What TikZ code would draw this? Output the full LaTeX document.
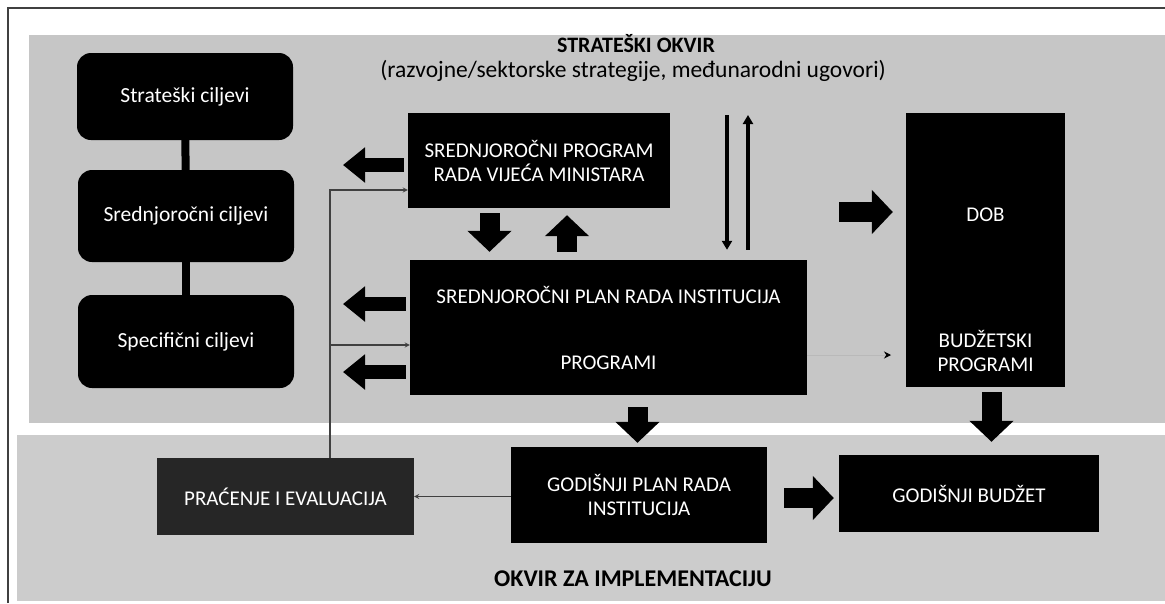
\documentclass[tikz,border=0pt]{standalone}
\usepackage{fontspec}
\setmainfont{Carlito}
\usetikzlibrary{arrows.meta,positioning}

\begin{document}
\begin{tikzpicture}[x=1pt,y=-1pt,>=stealth,
goal/.style = {fill=black, text=white, rounded corners=14pt, minimum width=216pt, font=\fontsize{21.5}{25}\selectfont},
box/.style = {fill=black, text=white, align=center, inner sep=0pt, font=\fontsize{21}{24}\selectfont},
head/.style = {inner sep=0pt, font=\bfseries\fontsize{22}{26}\selectfont},
fat/.style = {line width=20pt, -{Triangle[length=21pt,width=43pt]}},
side/.style = {line width=14pt, -{Triangle[length=22pt,width=34pt]}},
pole/.style = {line width=4pt, -{Triangle[length=9pt,width=10pt]}},
fine/.style = {draw=black!75, line width=1.2pt},]
\useasboundingbox (0,0) rectangle (1165,603);
\fill[white] (0,0) rectangle (1165,603);
% panels and frame
\fill[gray!45] (29,35) rectangle (1165,423);
\fill[gray!40] (17,435) rectangle (1165,601);
\draw[line width=1.5pt, black!75] (8,603) -- (8,8) -- (1165,8);
\node (title) at (636,44)[head] {STRATEŠKI OKVIR};
\node (subtitle) at (633,71)[inner sep=0pt,font=\fontsize{23.5}{27}\selectfont] {(razvojne/sektorske strategije, međunarodni ugovori)};
\node (impl) at (633,579)[head,font=\bfseries\fontsize{24}{28}\selectfont] {OKVIR ZA IMPLEMENTACIJU};
% goals
\node (sc) at (185,96.5)[goal,minimum height=87pt] {Strateški ciljevi};
\node (src) at (186,216)[goal,minimum height=92pt] {Srednjoročni ciljevi};
\node (spc) at (186,341.5)[goal,minimum height=93pt] {Specifični ciljevi};
\draw[line width=8pt] (sc) -- (src);
\draw[line width=8pt] (src) -- (spc);
% boxes
\node (sprvm) at (539,160.5)[box,minimum width=262pt,minimum height=95pt] {SREDNJOROČNI PROGRAM\\RADA VIJEĆA MINISTARA};
\node (spri) at (608.5,327.5)[box,minimum width=397pt,minimum height=135pt] {SREDNJOROČNI PLAN RADA INSTITUCIJA\\[42pt]PROGRAMI};
\node (dob) at (985.5,250)[box,minimum width=159pt,minimum height=274pt] {};
\node (dobtxt) at (985.5,215)[box] {DOB};
\node (bptxt) at (985.5,351)[box] {BUDŽETSKI\\PROGRAMI};
\node (pe) at (285.5,496.5)[box,fill=black!85,minimum width=257pt,minimum height=77pt] {PRAĆENJE I EVALUACIJA};
\node (gpri) at (639,495)[box,minimum width=256pt,minimum height=96pt] {GODIŠNJI PLAN RADA\\INSTITUCIJA};
\node (gb) at (969,493.5)[box,minimum width=260pt,minimum height=77pt] {GODIŠNJI BUDŽET};
% block arrows
\coordinate (l1) at (343,165);
\coordinate (l2) at (343,304);
\coordinate (l3) at (343,372);
\draw[side,shorten <=4pt] (sprvm.west |- l1) -- (l1);
\draw[side,shorten <=4pt] (spri.west |- l2) -- (l2);
\draw[side,shorten <=4pt] (spri.west |- l3) -- (l3);
\coordinate (d1) at (489.5,0);
\coordinate (u1) at (567,0);
\draw[fat,shorten <=5pt,shorten >=8pt] (sprvm.south -| d1) -- (spri.north -| d1);
\draw[fat,shorten <=8pt,shorten >=7pt] (spri.north -| u1) -- (sprvm.south -| u1);
\coordinate (r1) at (839,212);
\draw[fat,shorten >=13pt] (r1) -- (dob.west |- r1);
\coordinate (d2) at (637.5,0);
\draw[fat,shorten <=12pt,shorten >=4pt] (spri.south -| d2) -- (gpri.north -| d2);
\coordinate (d3) at (991.5,0);
\draw[fat,shorten <=5pt,shorten >=13pt] (dob.south -| d3) -- (gb.north -| d3);
\coordinate (r2) at (0,498);
\draw[fat,shorten <=17pt,shorten >=5pt] (gpri.east |- r2) -- (gb.west |- r2);
% thin arrows
\coordinate (t1) at (727,115);
\coordinate (t2) at (748,115);
\draw[pole,shorten >=10pt] (t1) -- (spri.north -| t1);
\draw[pole,shorten <=10pt] (spri.north -| t2) -- (t2);
\coordinate (fb) at (330,190);
\coordinate (fb2) at (330,345);
\draw[fine,->] (pe.north -| fb) -- (fb) -- (sprvm.west |- fb);
\draw[fine,->] (fb2) -- (spri.west |- fb2);
\draw[fine,->] (gpri.west |- pe.east) -- (pe.east);
\coordinate (tp) at (891,355);
\draw[draw=gray!55,line width=0.8pt,-{Stealth[length=7pt,width=7pt,color=black]}] (spri.east |- tp) -- (tp);
\end{tikzpicture}
\end{document}
